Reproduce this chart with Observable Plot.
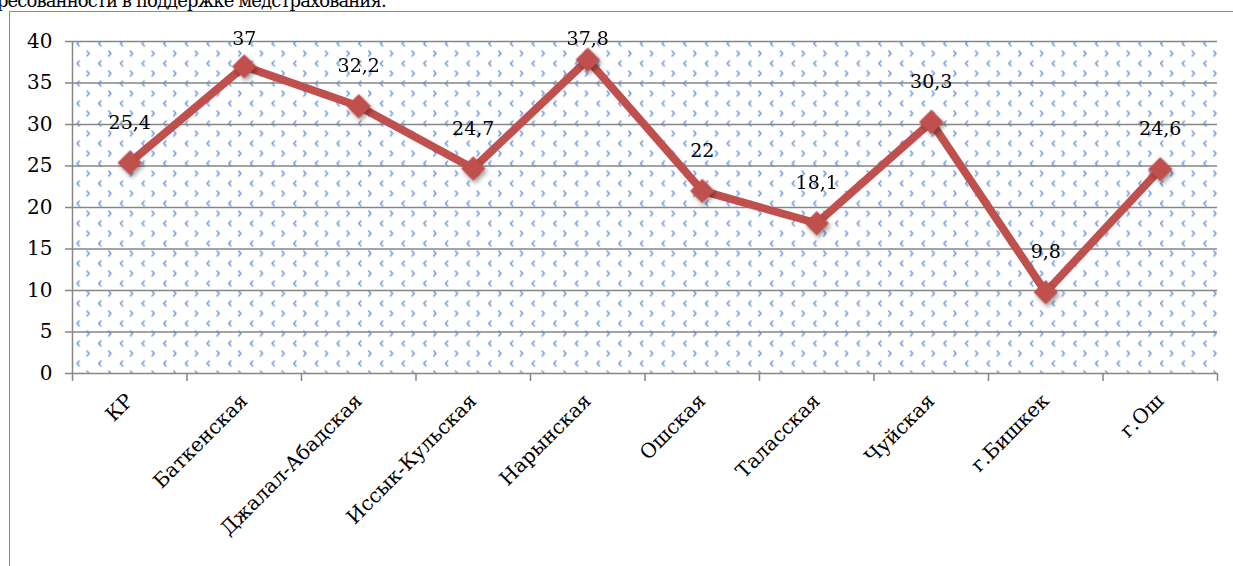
<!DOCTYPE html>
<html>
<head>
<meta charset="utf-8">
<script src="https://cdn.jsdelivr.net/npm/d3@7"></script>
<script src="https://cdn.jsdelivr.net/npm/@observablehq/plot@0.6"></script>
<style>
  html, body { margin: 0; padding: 0; background: #fff; overflow: hidden; }
  #wrap { position: relative; width: 1233px; height: 566px; overflow: hidden; }
  #title { position: absolute; left: -3px; top: -10px; font-family: "DejaVu Serif", serif; font-size: 18px; letter-spacing: -0.9px; line-height: 22px; white-space: nowrap; color: #000; }
  #box { position: absolute; left: 9px; top: 11px; width: 1300px; height: 700px; border: 1.5px solid #8c8c8c; box-sizing: border-box; }
  #chart { position: absolute; left: 0; top: 0; }
  .mk { filter: drop-shadow(2px 3px 2px rgba(0,0,0,0.35)); }
</style>
</head>
<body>
<div id="wrap">
  <div id="title">ресованности в поддержке медстрахования.</div>
  <div id="box"></div>
  <div id="chart"></div>
</div>
<script>
const categories = ["КР","Баткенская","Джалал-Абадская","Иссык-Кульская","Нарынская","Ошская","Таласская","Чуйская","г.Бишкек","г.Ош"];
const values = [25.4, 37, 32.2, 24.7, 37.8, 22, 18.1, 30.3, 9.8, 24.6];
const yTicks = [0, 5, 10, 15, 20, 25, 30, 35, 40];

const data = categories.map((c, i) => ({i, c, v: values[i]}));
const fmt = v => String(v).replace(".", ",");
const xc = d => d.i + 0.5;
const grid = "#868686";

const svg = Plot.plot({
  width: 1233,
  height: 566,
  marginLeft: 72,
  marginRight: 16,
  marginTop: 41,
  marginBottom: 193,
  style: {fontFamily: "'DejaVu Serif', serif", fontSize: "20px", color: "#000", background: "transparent"},
  x: {type: "linear", domain: [0, categories.length], axis: null},
  y: {domain: [0, 40], axis: null},
  marks: [
    Plot.frame({fill: "url(#dots)", stroke: null}),
    Plot.ruleY(yTicks, {stroke: grid, strokeWidth: 1.5}),
    Plot.axisY({ticks: yTicks, label: null, tickSize: 7, tickPadding: 13, stroke: grid, strokeWidth: 1.5, fontSize: 20, strokeOpacity: 1}),
    Plot.ruleX([0], {stroke: grid, strokeWidth: 1.5}),
    Plot.axisX({ticks: d3.range(categories.length + 1), label: null, tickFormat: () => "", tickSize: 8, stroke: grid, strokeWidth: 1.5, strokeOpacity: 1}),
    Plot.axisX({ticks: categories.map((c, i) => i + 0.5), label: null, tickFormat: t => categories[Math.floor(t)], tickSize: 0, tickPadding: 24, tickRotate: -45, fontSize: 20}),
    Plot.line(data, {x: xc, y: "v", stroke: "#c0504d", strokeWidth: 8, strokeLinejoin: "round"}),
    Plot.dot(data, {x: xc, y: "v", symbol: "diamond2", r: 11, fill: "#c0504d", stroke: null, className: "mk"}),
    Plot.text(data.filter(d => d.v <= 36), {x: xc, y: "v", text: d => fmt(d.v), dy: -40, fontSize: 19}),
    Plot.text(data.filter(d => d.v > 36), {x: xc, text: d => fmt(d.v), frameAnchor: "top", dy: -10, fontSize: 19})
  ]
});

// background pattern (blue chevron dots)
const defs = d3.select(svg).insert("defs", ":first-child");
const pat = defs.append("pattern")
  .attr("id", "dots")
  .attr("patternUnits", "userSpaceOnUse")
  .attr("x", 72).attr("y", 38)
  .attr("width", 21.67).attr("height", 20);
pat.append("rect").attr("width", 21.67).attr("height", 20).attr("fill", "#fff");
pat.append("path").attr("d", "M6.8,2.6 L4.6,5 L6.8,7.4")
  .attr("fill", "none").attr("stroke", "#5d8fd8").attr("stroke-width", 1.5).attr("stroke-linecap", "round").attr("stroke-opacity", 0.9);
pat.append("path").attr("d", "M14.5,12.6 L16.7,15 L14.5,17.4")
  .attr("fill", "none").attr("stroke", "#5d8fd8").attr("stroke-width", 1.5).attr("stroke-linecap", "round").attr("stroke-opacity", 0.9);

document.getElementById("chart").appendChild(svg);
</script>
</body>
</html>
